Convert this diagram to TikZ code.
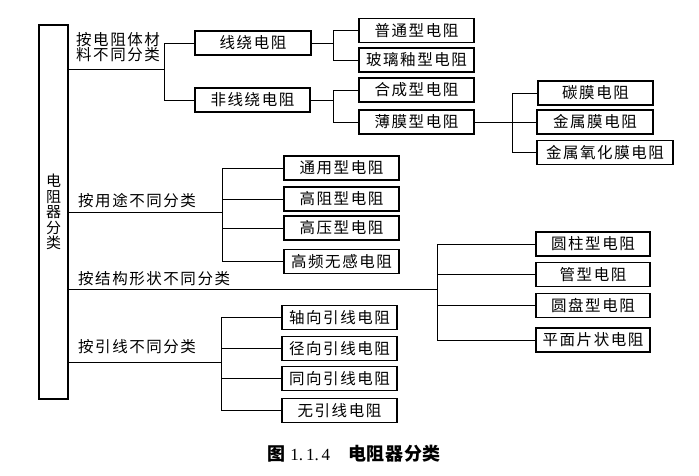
\documentclass[tikz,border=0pt]{standalone}
\usepackage{fontspec}
\newfontfamily\cjk[LetterSpace=10]{Noto Sans CJK SC}
\newfontfamily\cjkplain{Noto Sans CJK SC}
\newfontfamily\cjkcap[LetterSpace=4]{Noto Sans CJK SC}
\newfontfamily\digitfont{Liberation Serif}
\begin{document}
\begin{tikzpicture}[x=1pt,y=-1pt,
  rbox/.style={draw, line width=1.1pt, minimum width=115pt, minimum height=24pt, inner sep=0pt,
    font=\cjk\fontsize{15.5}{17}\selectfont},
  conn/.style={line width=0.9pt},
  lbl/.style={anchor=west, inner sep=0pt, font=\cjk\fontsize{15.5}{14.5}\selectfont}]
\useasboundingbox[fill=white] (0,0) rectangle (699,476);
% root
\node[draw, line width=1.1pt, minimum width=29pt, minimum height=374pt, inner sep=0pt, align=center,
  font=\cjkplain\fontsize{15}{15.5}\selectfont] (root) at (53.5,212) {电\\阻\\器\\分\\类};
% branch 1
\node[lbl, align=left] (L1) at (76,47) {按电阻体材\\料不同分类};
\coordinate (j1) at (164,69);
\node[rbox, minimum width=116pt] (A1) at (253,43) {线绕电阻};
\node[rbox] (A2) at (252.5,100) {非线绕电阻};
\draw[conn] (root.east |- j1) -- (j1);
\draw[conn] (j1) |- (A1.west);
\draw[conn] (j1) |- (A2.west);
\coordinate (j11) at (333,43);
\node[rbox] (A11) at (416.5,30.5) {普通型电阻};
\node[rbox] (A12) at (416.5,60) {玻璃釉型电阻};
\draw[conn] (A1.east) -- (j11);
\draw[conn] (j11) |- (A11.west);
\draw[conn] (j11) |- (A12.west);
\coordinate (j12) at (333,100);
\node[rbox] (A21) at (416.5,90) {合成型电阻};
\node[rbox] (A22) at (416.5,122) {薄膜型电阻};
\draw[conn] (A2.east) -- (j12);
\draw[conn] (j12) |- (A21.west);
\draw[conn] (j12) |- (A22.west);
\coordinate (j22) at (512,122);
\node[rbox] (B1) at (595.5,93) {碳膜电阻};
\node[rbox, minimum width=116pt] (B2) at (595,122) {金属膜电阻};
\node[rbox, minimum width=136pt] (B3) at (605,152.5) {金属氧化膜电阻};
\draw[conn] (A22.east) -- (j22);
\draw[conn] (j22) |- (B1.west);
\draw[conn] (j22) |- (B2.west);
\draw[conn] (j22) |- (B3.west);
% branch 2
\node[lbl] (L2) at (78,201) {按用途不同分类};
\coordinate (j2) at (222,212);
\node[rbox] (C1) at (341.5,168) {通用型电阻};
\node[rbox] (C2) at (341.5,199) {高阻型电阻};
\node[rbox] (C3) at (341.5,228) {高压型电阻};
\node[rbox] (C4) at (341.5,261.5) {高频无感电阻};
\draw[conn] (root.east |- j2) -- (j2);
\foreach \n in {C1,C2,C3,C4} \draw[conn] (j2) |- (\n.west);
% branch 3
\node[lbl] (L3) at (78,279) {按结构形状不同分类};
\coordinate (j3) at (437,289);
\node[rbox, minimum width=114pt] (D1) at (593,244) {圆柱型电阻};
\node[rbox, minimum width=114pt] (D2) at (593,274.5) {管型电阻};
\node[rbox, minimum width=114pt] (D3) at (593,305.5) {圆盘型电阻};
\node[rbox, minimum width=114pt] (D4) at (593,340) {平面片状电阻};
\draw[conn] (root.east |- j3) -- (j3);
\foreach \n in {D1,D2,D3,D4} \draw[conn] (j3) |- (\n.west);
% branch 4
\node[lbl] (L4) at (78,347) {按引线不同分类};
\coordinate (j4) at (221,362);
\node[rbox] (E1) at (339.5,317.5) {轴向引线电阻};
\node[rbox] (E2) at (339.5,348.5) {径向引线电阻};
\node[rbox] (E3) at (339.5,378.5) {同向引线电阻};
\node[rbox] (E4) at (339.5,410.5) {无引线电阻};
\draw[conn] (root.east |- j4) -- (j4);
\foreach \n in {E1,E2,E3,E4} \draw[conn] (j4) |- (\n.west);
% caption
\node[inner sep=0pt, font=\fontsize{18}{20}\selectfont] (cap) at (354,454)
  {{\cjkcap\bfseries 图}\ {\digitfont\fontsize{17}{20}\selectfont 1.\,1.\,4}\quad{\cjkcap\bfseries 电阻器分类}};
\end{tikzpicture}
\end{document}
